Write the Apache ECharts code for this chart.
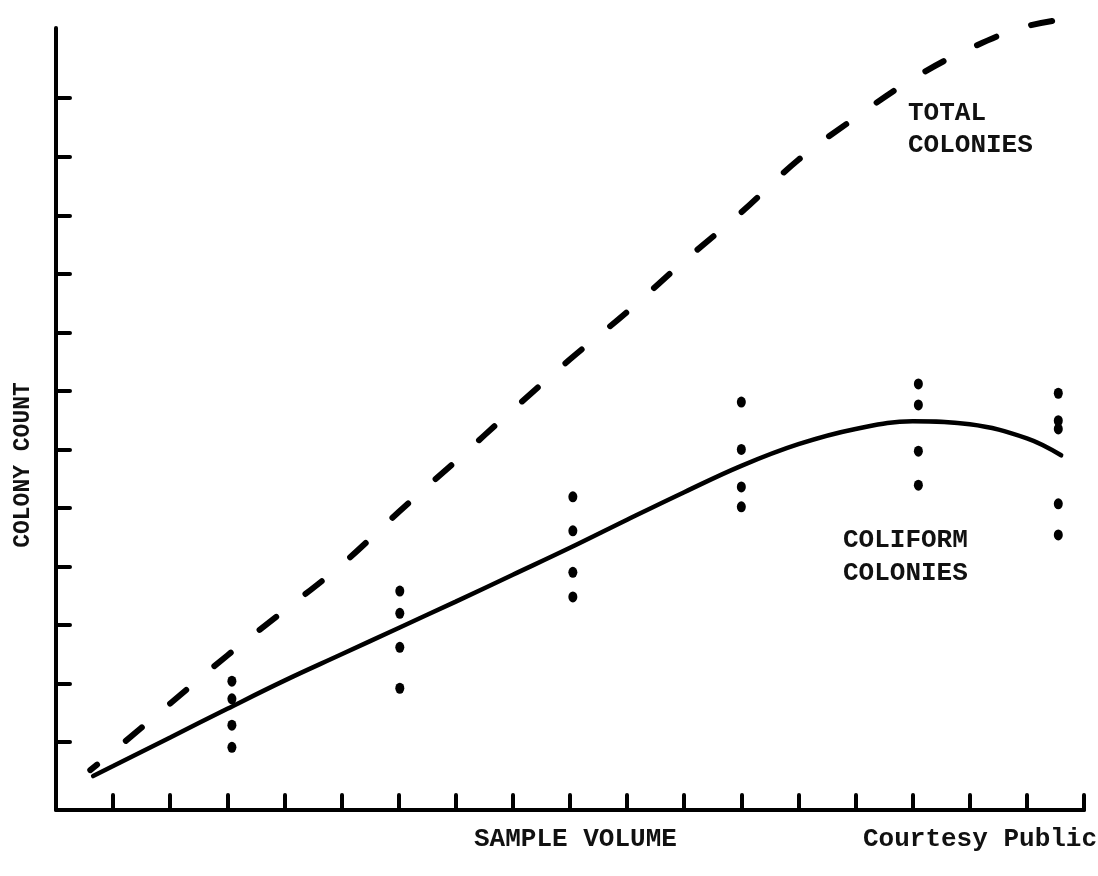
<!DOCTYPE html>
<html>
<head>
<meta charset="utf-8">
<script src="https://cdn.jsdelivr.net/npm/echarts@6/dist/echarts.min.js"></script>
<style>
  html, body { margin: 0; padding: 0; background: #fff; }
  #chart { width: 1098px; height: 876px; }
</style>
</head>
<body>
<div id="chart"></div>
<script>
// ---- data (units are tick intervals) ----
const xTickValues = [1, 2, 3, 4, 5, 6, 7, 8, 9, 10, 11, 12, 13, 14, 15, 16, 17, 18];
const yTickValues = [1, 2, 3, 4, 5, 6, 7, 8, 9, 10, 11, 12];

const totalX = [0.6, 1, 2, 3, 4, 5, 6, 7, 8, 9, 10, 11, 12, 13, 14, 15, 16, 17, 17.9];
const totalY = [0.52, 0.84, 1.66, 2.48, 3.25, 4.03, 4.93, 5.80, 6.68, 7.54, 8.35, 9.22, 10.05, 10.95, 11.67, 12.33, 12.85, 13.23, 13.38];

const coliformX = [0.65, 1, 2, 3, 4, 5, 6, 7, 8, 9, 10, 11, 12, 13, 14, 15, 16, 17, 17.6];
const coliformY = [0.42, 0.59, 1.08, 1.57, 2.05, 2.50, 2.95, 3.40, 3.86, 4.32, 4.80, 5.27, 5.72, 6.09, 6.35, 6.48, 6.43, 6.19, 5.90];

const sampleX = [3.08, 3.08, 3.08, 3.08, 6.02, 6.02, 6.02, 6.02, 9.05, 9.05, 9.05, 9.05,
                 12.0, 12.0, 12.0, 12.0, 15.1, 15.1, 15.1, 15.1, 17.55, 17.55, 17.55, 17.55, 17.55];
const sampleY = [2.04, 1.74, 1.29, 0.91, 3.58, 3.20, 2.62, 1.92, 5.19, 4.61, 3.90, 3.48,
                 6.81, 6.00, 5.36, 5.02, 7.12, 6.76, 5.97, 5.39, 6.96, 6.49, 6.35, 5.07, 4.54];

const xAxisTitle = 'SAMPLE VOLUME';
const yAxisTitle = 'COLONY COUNT';
const totalLabel = ['TOTAL', 'COLONIES'];
const coliformLabel = ['COLIFORM', 'COLONIES'];
const credit = 'Courtesy Public';

// ---- build ----
const zip = (xs, ys) => xs.map((x, i) => [x, ys[i]]);
const FONT = '"Courier New", "Liberation Mono", monospace';
const txt = (text, x, y, size, weight, extra) => Object.assign({
  type: 'text', x: x, y: y,
  style: { text: text, font: weight + ' ' + size + 'px ' + FONT, fill: '#111',
           align: 'left', verticalAlign: 'middle' }
}, extra || {});

const chart = echarts.init(document.getElementById('chart'), null, { renderer: 'canvas' });
chart.setOption({
  backgroundColor: '#ffffff',
  animation: false,
  grid: { left: 56, right: 14, top: 28, bottom: 66, containLabel: false },
  xAxis: {
    type: 'value', min: 0, max: 18,
    axisLine: { show: true, onZero: false, lineStyle: { color: '#000', width: 4, cap: 'round' } },
    axisTick: { show: true, inside: true, length: 15, customValues: xTickValues,
                lineStyle: { color: '#000', width: 4, cap: 'round' } },
    axisLabel: { show: false },
    splitLine: { show: false }
  },
  yAxis: {
    type: 'value', min: -0.16, max: 13.2,
    axisLine: { show: true, onZero: false, lineStyle: { color: '#000', width: 4, cap: 'round' } },
    axisTick: { show: true, inside: true, length: 14, customValues: yTickValues,
                lineStyle: { color: '#000', width: 4, cap: 'round' } },
    axisLabel: { show: false },
    splitLine: { show: false }
  },
  series: [
    {
      name: 'Total colonies', type: 'line', smooth: 0.4, symbol: 'none', clip: false,
      data: zip(totalX, totalY),
      lineStyle: { color: '#000', width: 6, type: [21, 37], dashOffset: 12, cap: 'round' }
    },
    {
      name: 'Coliform colonies', type: 'line', smooth: 0.4, symbol: 'none', clip: false,
      data: zip(coliformX, coliformY),
      lineStyle: { color: '#000', width: 4.5, cap: 'round' }
    },
    {
      name: 'Samples', type: 'scatter', symbol: 'circle', symbolSize: [9, 11],
      data: zip(sampleX, sampleY),
      itemStyle: { color: '#000', opacity: 1 }
    }
  ],
  graphic: [
    txt(totalLabel[0], 908, 113, 26, 'bold'),
    txt(totalLabel[1], 908, 145, 26, 'bold'),
    txt(coliformLabel[0], 843, 540, 26, 'bold'),
    txt(coliformLabel[1], 843, 573, 26, 'bold'),
    txt(xAxisTitle, 474, 839, 26, 'bold'),
    txt(credit, 863, 839, 26, 'bold'),
    txt(yAxisTitle, 23, 465, 23, 'bold', { rotation: Math.PI / 2,
      style: { text: yAxisTitle, font: 'bold 23px ' + FONT, fill: '#111',
               align: 'center', verticalAlign: 'middle' } })
  ]
});
</script>
</body>
</html>
